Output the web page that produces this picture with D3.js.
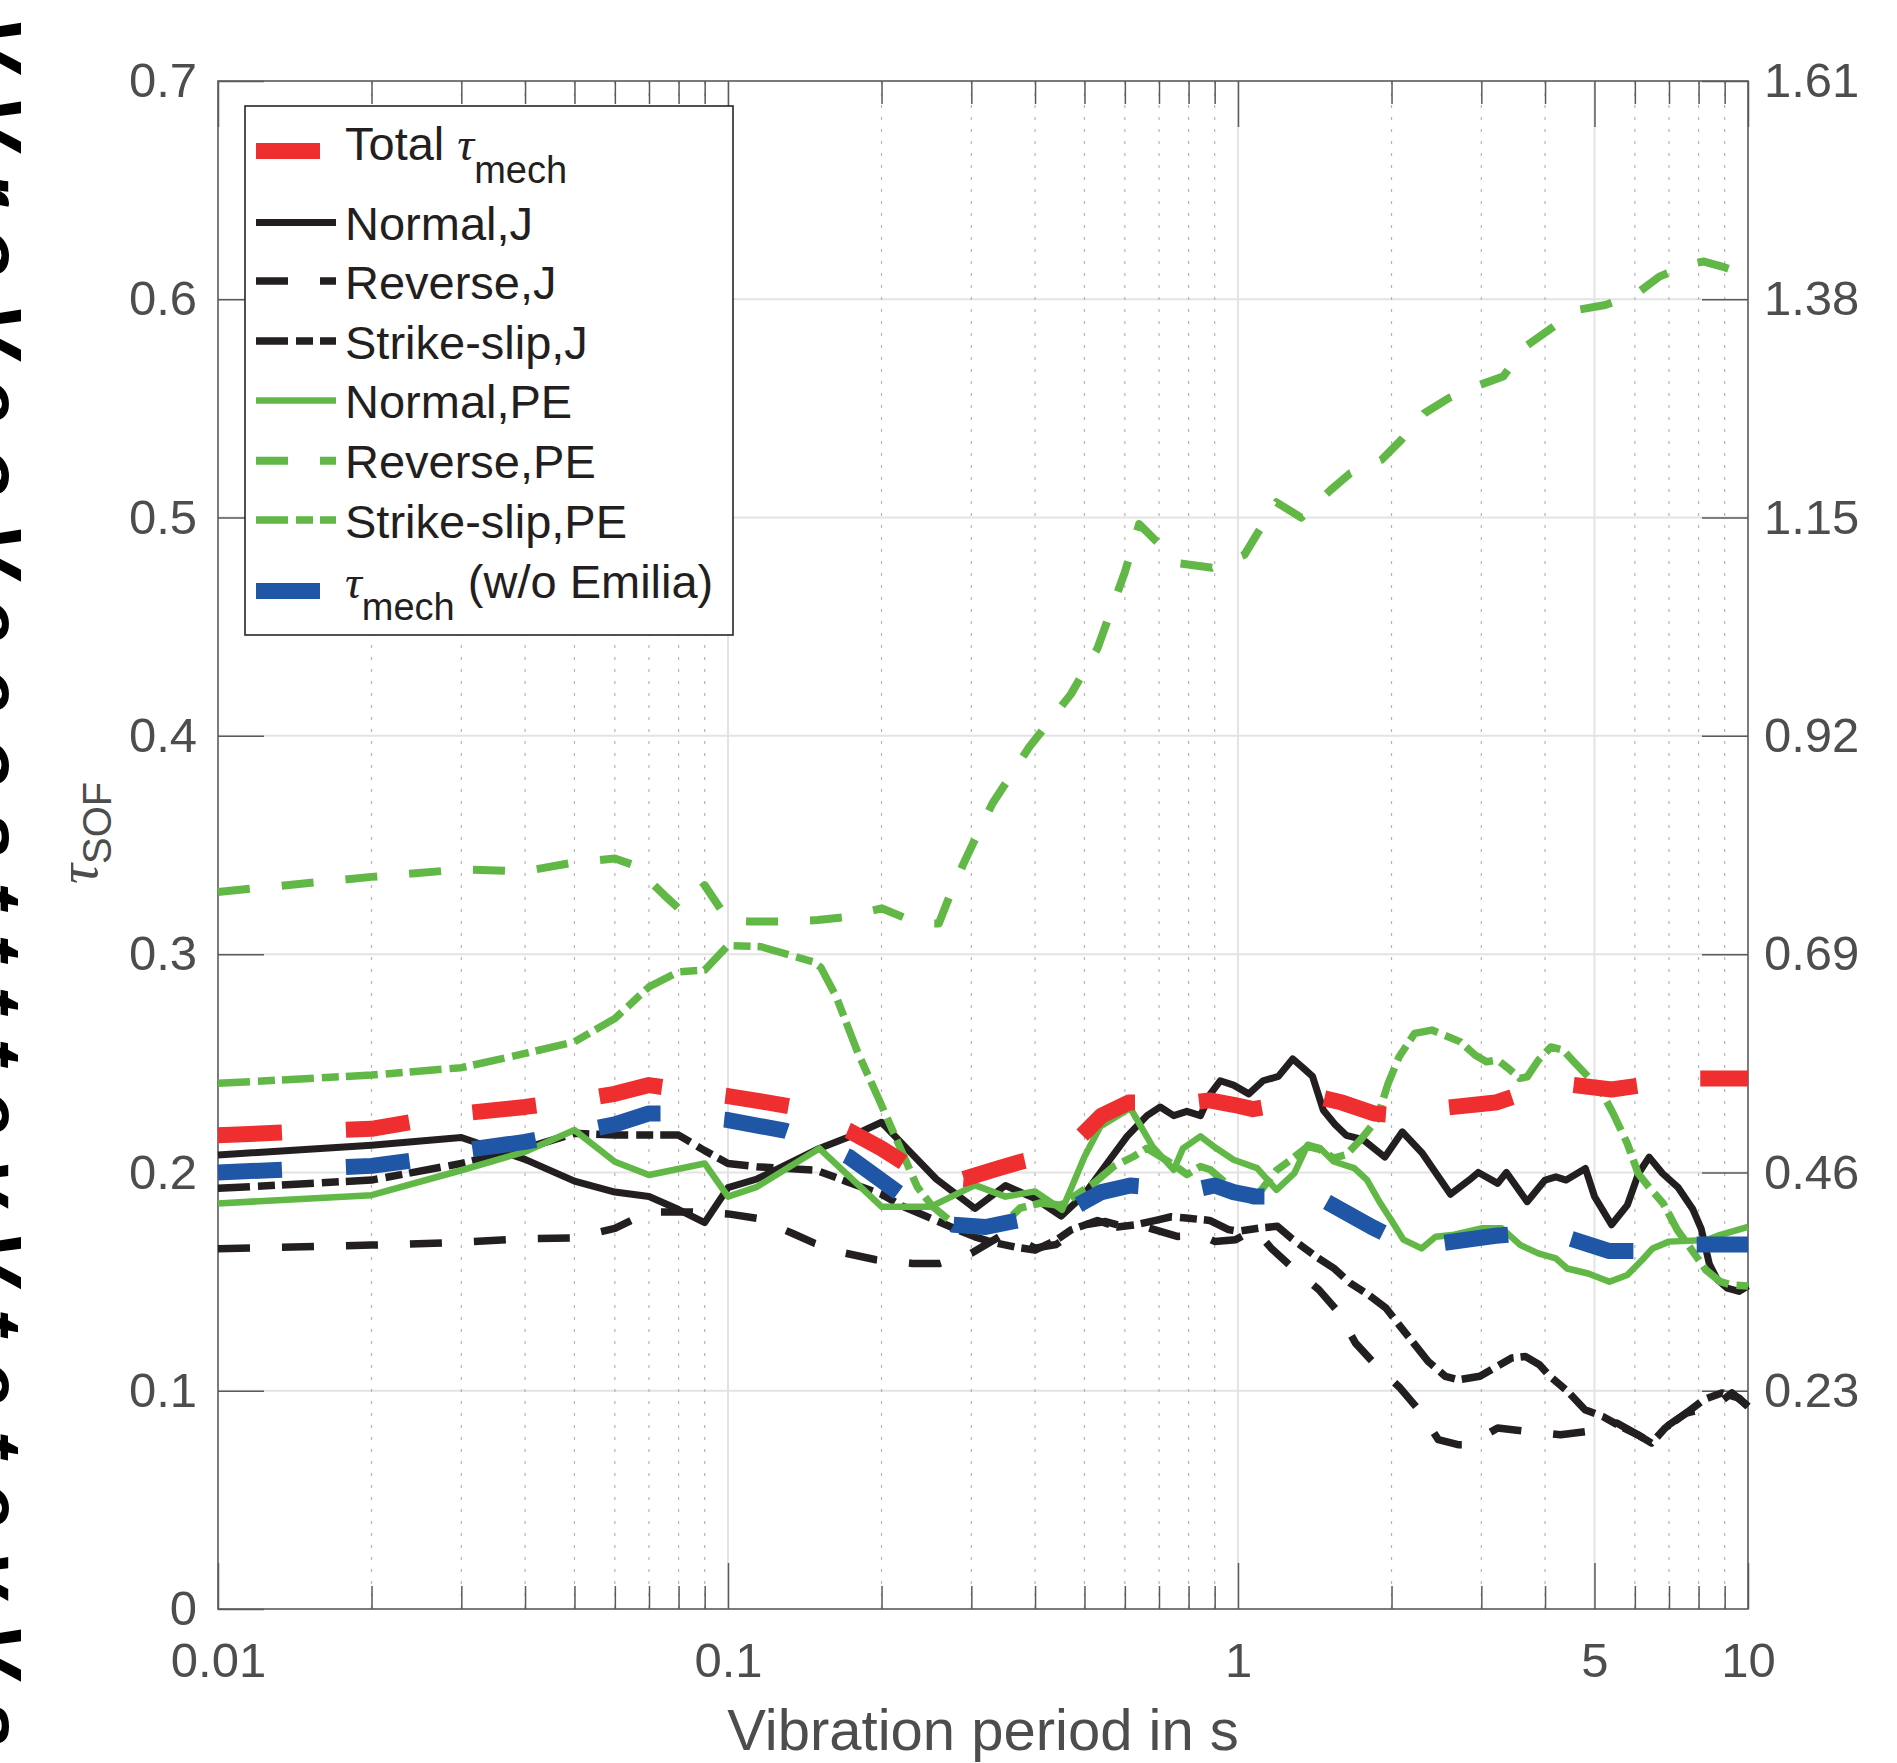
<!DOCTYPE html>
<meta charset="utf-8" />

<!-- Load d3.js -->
<script src="https://d3js.org/d3.v7.min.js"></script>

<style>
	body { margin: 0; background: #fff; }
	svg text { font-family: "Liberation Sans", Arial, Helvetica, sans-serif; }
</style>
<div id="chart"></div>

<script>
	// ---- data (period in s, tau_SOF) ----
	const periodsTotal = [0.01,0.02,0.03,0.04,0.05,0.06,0.07,0.075,0.085,0.1,0.12,0.134,0.15,0.173,0.2,0.223,0.25,0.29,0.34,0.377,0.43,0.48,0.54,0.61,0.7,0.81,0.88,0.98,1.07,1.2,1.41,1.6,1.85,2.1,2.4,3.2,3.6,4.2,5.4,6.2,7.0,9.25,10];
	const tauTotal = [0.217,0.220,0.227,0.230,0.233,0.236,0.240,0.239,0.237,0.235,0.232,0.230,0.225,0.219,0.211,0.204,0.198,0.197,0.202,0.205,0.208,0.214,0.226,0.232,0.232,0.232,0.233,0.231,0.229,0.231,0.235,0.232,0.227,0.226,0.229,0.232,0.236,0.241,0.238,0.240,0.243,0.243,0.243];

	const periodsNoEmilia = [0.01,0.02,0.025,0.03,0.04,0.06,0.07,0.075,0.1,0.13,0.15,0.173,0.218,0.25,0.277,0.32,0.37,0.42,0.476,0.54,0.615,0.7,0.82,0.9,0.98,1.08,1.25,1.43,1.83,2.1,2.4,3.2,3.6,4.17,5.35,6.0,6.9,9.2,10];
	const tauNoEmilia = [0.200,0.203,0.206,0.210,0.214,0.222,0.227,0.227,0.224,0.219,0.214,0.207,0.190,0.182,0.176,0.175,0.178,0.180,0.184,0.191,0.194,0.193,0.192,0.194,0.191,0.189,0.189,0.189,0.175,0.168,0.167,0.171,0.172,0.172,0.164,0.164,0.167,0.167,0.167];

	const periodsNormalJ = [0.01,0.02,0.03,0.04,0.05,0.06,0.07,0.08,0.09,0.1,0.114,0.151,0.176,0.2,0.224,0.256,0.305,0.35,0.4,0.45,0.5,0.553,0.606,0.663,0.704,0.748,0.794,0.844,0.883,0.923,0.98,1.05,1.12,1.2,1.28,1.34,1.4,1.47,1.55,1.63,1.76,1.94,2.1,2.3,2.61,2.84,2.96,3.23,3.36,3.69,4.0,4.2,4.4,4.8,5.0,5.4,5.8,6.1,6.4,6.8,7.3,7.8,8.1,8.4,8.7,9.1,9.6,10];
	const tauNormalJ = [0.208,0.2125,0.216,0.206,0.196,0.191,0.189,0.183,0.177,0.193,0.197,0.211,0.217,0.223,0.211,0.197,0.1835,0.194,0.188,0.180,0.190,0.204,0.2165,0.226,0.230,0.226,0.228,0.226,0.236,0.242,0.240,0.236,0.242,0.244,0.252,0.248,0.244,0.2285,0.222,0.217,0.215,0.207,0.2186,0.2087,0.190,0.1965,0.200,0.195,0.200,0.1866,0.1965,0.198,0.1965,0.2018,0.189,0.176,0.185,0.1995,0.207,0.1995,0.193,0.183,0.174,0.158,0.151,0.147,0.1455,0.148];

	const periodsReverseJ = [0.01,0.02,0.03,0.04,0.05,0.06,0.07,0.085,0.1,0.114,0.134,0.148,0.17,0.195,0.23,0.26,0.3,0.34,0.38,0.4,0.44,0.5,0.55,0.6,0.67,0.76,0.85,0.9,0.99,1.08,1.16,1.28,1.44,1.57,1.7,1.86,2.08,2.26,2.47,2.7,2.83,3.23,3.69,4.29,4.86,5.53,6.08,6.47,7.0,7.57,8.6,9.3,10];
	const tauReverseJ = [0.165,0.1667,0.168,0.1697,0.170,0.1744,0.1819,0.1819,0.181,0.179,0.172,0.1675,0.163,0.160,0.1583,0.1583,0.163,0.1705,0.168,0.1653,0.167,0.176,0.1775,0.175,0.1745,0.1707,0.171,0.1684,0.1692,0.174,0.1654,0.1562,0.1463,0.1363,0.1218,0.1119,0.1012,0.0913,0.0776,0.0753,0.0753,0.0829,0.0814,0.0798,0.0814,0.0852,0.0798,0.076,0.0844,0.0898,0.0928,0.099,0.0928];

	const periodsStrikeJ = [0.01,0.02,0.03,0.04,0.05,0.06,0.08,0.09,0.1,0.114,0.149,0.17,0.2,0.22,0.25,0.28,0.305,0.33,0.37,0.4,0.44,0.47,0.53,0.58,0.63,0.69,0.74,0.8,0.88,0.958,1.0,1.1,1.195,1.27,1.42,1.54,1.66,1.8,1.95,2.08,2.21,2.36,2.55,2.71,2.98,3.18,3.44,3.66,3.9,4.09,4.43,4.79,5.19,5.62,6.08,6.47,6.88,7.57,8.19,8.88,9.6,10];
	const tauStrikeJ = [0.1927,0.1965,0.2041,0.211,0.2179,0.2171,0.2171,0.21,0.2041,0.2026,0.201,0.196,0.19,0.1845,0.179,0.174,0.1705,0.168,0.1656,0.1644,0.169,0.1736,0.178,0.175,0.176,0.178,0.1797,0.179,0.178,0.1738,0.173,0.1745,0.1753,0.17,0.1615,0.1562,0.1493,0.144,0.1379,0.1295,0.1218,0.1134,0.1066,0.105,0.1066,0.1104,0.115,0.1157,0.1119,0.1066,0.0997,0.0913,0.0882,0.0837,0.0798,0.076,0.0829,0.0898,0.0959,0.099,0.0966,0.0928];

	const periodsNormalPE = [0.01,0.02,0.03,0.04,0.05,0.06,0.07,0.09,0.1,0.114,0.151,0.2,0.25,0.305,0.35,0.4,0.452,0.5,0.537,0.615,0.68,0.748,0.78,0.844,0.896,0.98,1.09,1.19,1.29,1.37,1.45,1.54,1.69,1.79,1.9,2.0,2.11,2.29,2.44,2.63,3.0,3.29,3.58,3.88,4.2,4.42,4.86,5.35,5.8,6.2,6.5,7.0,8.3,8.8,10];
	const tauNormalPE = [0.1858,0.1896,0.201,0.2095,0.2194,0.2049,0.1988,0.2041,0.1889,0.1934,0.211,0.1843,0.1843,0.1942,0.1889,0.1913,0.1829,0.2072,0.221,0.2295,0.2118,0.2012,0.211,0.2165,0.2119,0.2058,0.202,0.192,0.1997,0.2127,0.2111,0.205,0.202,0.1966,0.186,0.178,0.1692,0.1652,0.1705,0.1713,0.1744,0.1744,0.1667,0.1629,0.1606,0.156,0.1537,0.1499,0.153,0.1599,0.1652,0.1683,0.169,0.1713,0.1751];

	const periodsReversePE = [0.01,0.02,0.03,0.04,0.05,0.06,0.065,0.075,0.08,0.09,0.1,0.11,0.13,0.15,0.17,0.2,0.224,0.25,0.259,0.272,0.289,0.307,0.33,0.39,0.47,0.53,0.6,0.64,0.7,0.77,0.89,1.03,1.1,1.19,1.33,1.52,1.66,1.91,2.09,2.32,2.59,2.98,3.31,3.66,4.03,4.62,5.25,6.0,6.7,7.7,8.2,8.9,10];
	const tauReversePE = [0.3285,0.3354,0.3388,0.338,0.342,0.3438,0.341,0.327,0.321,0.3316,0.3156,0.315,0.315,0.3156,0.317,0.321,0.3163,0.314,0.314,0.3267,0.341,0.354,0.369,0.395,0.419,0.44,0.475,0.497,0.488,0.479,0.477,0.483,0.494,0.507,0.5,0.5127,0.5203,0.5264,0.5356,0.5478,0.5547,0.5608,0.5646,0.5783,0.5852,0.5951,0.5974,0.602,0.6104,0.6162,0.6173,0.615,0.611];

	const periodsStrikePE = [0.01,0.02,0.03,0.04,0.05,0.06,0.07,0.08,0.09,0.1,0.116,0.147,0.152,0.163,0.18,0.198,0.22,0.235,0.252,0.272,0.3,0.33,0.353,0.374,0.41,0.45,0.521,0.57,0.624,0.663,0.748,0.794,0.844,0.883,0.937,1.0,1.07,1.12,1.19,1.27,1.37,1.45,1.54,1.63,1.74,1.87,1.97,2.07,2.22,2.4,2.54,2.73,2.92,3.07,3.23,3.42,3.57,3.69,3.88,4.11,4.34,4.59,4.86,5.1,5.44,5.8,6.09,6.39,6.82,7.27,7.76,8.27,8.82,9.25,10];
	const tauStrikePE = [0.2408,0.2446,0.248,0.2545,0.2598,0.2705,0.285,0.2919,0.2927,0.304,0.3034,0.2965,0.294,0.2805,0.2545,0.2331,0.2087,0.1934,0.1843,0.178,0.173,0.174,0.178,0.1837,0.186,0.185,0.195,0.2027,0.2073,0.2111,0.2035,0.199,0.2027,0.2012,0.196,0.19,0.187,0.193,0.201,0.2058,0.2119,0.2104,0.2066,0.2081,0.215,0.2241,0.2408,0.253,0.2637,0.2652,0.2629,0.2598,0.2537,0.2507,0.2515,0.2469,0.2431,0.2438,0.2514,0.2575,0.256,0.2499,0.2438,0.2392,0.227,0.2132,0.1995,0.1934,0.1858,0.1736,0.1644,0.1553,0.15,0.1485,0.148];

	// ticks
	const xMajorTicks = [0.01, 0.1, 1, 5, 10];
	const xTickLabels = ["0.01", "0.1", "1", "5", "10"];
	const yTicks = [0, 0.1, 0.2, 0.3, 0.4, 0.5, 0.6, 0.7];
	const yTickLabels = ["0", "0.1", "0.2", "0.3", "0.4", "0.5", "0.6", "0.7"];
	const yRightTicks = [0.23, 0.46, 0.69, 0.92, 1.15, 1.38, 1.61];
	const yRightTickLabels = ["0.23", "0.46", "0.69", "0.92", "1.15", "1.38", "1.61"];

	// ---- layout ----
	const W = 1897, H = 1763;
	const plotL = 218, plotR = 1748, plotT = 81, plotB = 1609;
	const axisColor = "#5a5a5a";
	const labelColor = "#4d4d4d";
	const red = "#ee2e2f", blue = "#1f56a6", green = "#62b846", black = "#231f20";

	const svg = d3.select("#chart").append("svg")
		.attr("width", W)
		.attr("height", H);

	svg.append("rect").attr("width", W).attr("height", H).attr("fill", "#fff");

	const x = d3.scaleLog().domain([0.01, 10]).range([plotL, plotR]);
	const y = d3.scaleLinear().domain([0, 0.7]).range([plotB, plotT]);
	const yRight = d3.scaleLinear().domain([0, 1.61]).range([plotB, plotT]);

	// minor ticks on the log axis (2..9 in each decade, 5 is a major one)
	const xMinorTicks = [];
	[0.01, 0.1, 1].forEach(dec => {
		for (let k = 2; k <= 9; k++) {
			const v = +(dec * k).toPrecision(3);
			if (v !== 5) xMinorTicks.push(v);
		}
	});

	// grid
	const grid = svg.append("g");
	grid.selectAll(".hgrid")
		.data(yTicks.slice(1, -1))
		.enter().append("line")
		.attr("x1", plotL).attr("x2", plotR)
		.attr("y1", d => y(d)).attr("y2", d => y(d))
		.attr("stroke", "#e3e3e3").attr("stroke-width", 2);
	grid.selectAll(".vminor")
		.data(xMinorTicks)
		.enter().append("line")
		.attr("x1", d => x(d)).attr("x2", d => x(d))
		.attr("y1", plotT).attr("y2", plotB)
		.attr("stroke", "#b4b4b4").attr("stroke-width", 1.2)
		.attr("stroke-dasharray", "3,9");
	grid.selectAll(".vmajor")
		.data(xMajorTicks.slice(1, -1))
		.enter().append("line")
		.attr("x1", d => x(d)).attr("x2", d => x(d))
		.attr("y1", plotT).attr("y2", plotB)
		.attr("stroke", "#e3e3e3").attr("stroke-width", 2);

	// axes
	function styleAxis(g) {
		g.select(".domain").remove();
		g.selectAll(".tick line").attr("stroke", axisColor).attr("stroke-width", 1.5);
		g.selectAll(".tick text").attr("fill", labelColor);
		g.attr("font-family", "Liberation Sans, Arial, sans-serif").attr("font-size", 49);
	}

	svg.append("g")
		.attr("transform", "translate(0," + plotB + ")")
		.call(d3.axisBottom(x).tickValues(xMajorTicks).tickSize(-46).tickPadding(33)
			.tickFormat((d, i) => xTickLabels[i]))
		.call(styleAxis);
	svg.append("g")
		.attr("transform", "translate(0," + plotB + ")")
		.call(d3.axisBottom(x).tickValues(xMinorTicks).tickSize(-23).tickFormat(""))
		.call(styleAxis);
	svg.append("g")
		.attr("transform", "translate(0," + plotT + ")")
		.call(d3.axisTop(x).tickValues(xMajorTicks).tickSize(-46).tickFormat(""))
		.call(styleAxis);
	svg.append("g")
		.attr("transform", "translate(0," + plotT + ")")
		.call(d3.axisTop(x).tickValues(xMinorTicks).tickSize(-23).tickFormat(""))
		.call(styleAxis);
	svg.append("g")
		.attr("transform", "translate(" + plotL + ",0)")
		.call(d3.axisLeft(y).tickValues(yTicks).tickSize(-46).tickPadding(21)
			.tickFormat((d, i) => yTickLabels[i]))
		.call(styleAxis);
	svg.append("g")
		.attr("transform", "translate(" + plotR + ",0)")
		.call(d3.axisRight(yRight).tickValues(yRightTicks).tickSize(-46).tickPadding(16)
			.tickFormat((d, i) => yRightTickLabels[i]))
		.call(styleAxis);

	// box
	svg.append("rect")
		.attr("x", plotL).attr("y", plotT)
		.attr("width", plotR - plotL).attr("height", plotB - plotT)
		.attr("fill", "none").attr("stroke", axisColor).attr("stroke-width", 1.6);

	// series
	const dashDash = "32,32";
	const dashDot = "32,8,17,7";
	const series = [
		{ t: periodsNormalJ, v: tauNormalJ, color: black, w: 7, dash: null },
		{ t: periodsReverseJ, v: tauReverseJ, color: black, w: 7.5, dash: dashDash },
		{ t: periodsStrikeJ, v: tauStrikeJ, color: black, w: 7.5, dash: dashDot },
		{ t: periodsNormalPE, v: tauNormalPE, color: green, w: 6.5, dash: null },
		{ t: periodsReversePE, v: tauReversePE, color: green, w: 8, dash: dashDash },
		{ t: periodsStrikePE, v: tauStrikePE, color: green, w: 7.5, dash: dashDot },
		{ t: periodsTotal, v: tauTotal, color: red, w: 16, dash: "64,64" },
		{ t: periodsNoEmilia, v: tauNoEmilia, color: blue, w: 16, dash: "64,64" }
	];

	const line = d3.line()
		.x(d => x(d[0]))
		.y(d => y(d[1]));

	svg.append("g").selectAll("path")
		.data(series)
		.enter().append("path")
		.attr("d", d => line(d3.zip(d.t, d.v)))
		.attr("fill", "none")
		.attr("stroke", d => d.color)
		.attr("stroke-width", d => d.w)
		.attr("stroke-linejoin", "round")
		.attr("stroke-dasharray", d => d.dash);

	// legend
	const legend = svg.append("g");
	legend.append("rect")
		.attr("x", 245).attr("y", 106)
		.attr("width", 488).attr("height", 529)
		.attr("fill", "#fff").attr("stroke", "#262626").attr("stroke-width", 1.6);

	const legendRows = [
		{ color: red, w: 16, dash: null, x2: 320, ly: 151 },
		{ color: black, w: 7, dash: null, x2: 336, ly: 222.6, label: "Normal,J" },
		{ color: black, w: 7.5, dash: dashDash, x2: 336, ly: 281, label: "Reverse,J" },
		{ color: black, w: 7.5, dash: dashDot, x2: 336, ly: 341, label: "Strike-slip,J" },
		{ color: green, w: 6.5, dash: null, x2: 336, ly: 400.6, label: "Normal,PE" },
		{ color: green, w: 8, dash: dashDash, x2: 336, ly: 460.7, label: "Reverse,PE" },
		{ color: green, w: 7.5, dash: dashDot, x2: 336, ly: 520, label: "Strike-slip,PE" },
		{ color: blue, w: 16, dash: null, x2: 320, ly: 591 }
	];

	legend.selectAll(".sample")
		.data(legendRows)
		.enter().append("line")
		.attr("x1", 256).attr("x2", d => d.x2)
		.attr("y1", d => d.ly).attr("y2", d => d.ly)
		.attr("stroke", d => d.color)
		.attr("stroke-width", d => d.w)
		.attr("stroke-dasharray", d => d.dash);

	legend.selectAll(".plain")
		.data(legendRows.filter(d => d.label))
		.enter().append("text")
		.attr("x", 345)
		.attr("y", d => d.ly + 17.5)
		.attr("font-size", 47)
		.attr("fill", black)
		.text(d => d.label);

	const t1 = legend.append("text").attr("x", 345).attr("y", 160)
		.attr("font-size", 47).attr("fill", black);
	t1.append("tspan").text("Total ");
	t1.append("tspan").attr("font-family", "Liberation Serif, serif").attr("font-style", "italic").text("τ");
	t1.append("tspan").attr("font-size", 38).attr("dy", 23).text("mech");

	const t8 = legend.append("text").attr("x", 345).attr("y", 598)
		.attr("font-size", 47).attr("fill", black);
	t8.append("tspan").attr("font-family", "Liberation Serif, serif").attr("font-style", "italic").text("τ");
	t8.append("tspan").attr("font-size", 38).attr("dy", 22).text("mech");
	t8.append("tspan").attr("dy", -22).text(" (w/o Emilia)");

	// axis labels
	svg.append("text")
		.attr("x", (plotL + plotR) / 2)
		.attr("y", 1750)
		.attr("text-anchor", "middle")
		.attr("font-size", 58)
		.attr("fill", labelColor)
		.text("Vibration period in s");

	const yl = svg.append("text")
		.attr("transform", "translate(97,884) rotate(-90)")
		.attr("font-size", 56)
		.attr("fill", labelColor);
	yl.append("tspan").attr("font-family", "Liberation Serif, serif").attr("font-style", "italic").text("τ");
	yl.append("tspan").attr("font-size", 40).attr("dy", 14).text("SOF");

	// rotated text running off the left page edge, as in the source figure
	svg.append("text")
		.attr("transform", "translate(-34,16) rotate(90)")
		.attr("font-size", 80)
		.attr("font-weight", "bold")
		.attr("font-style", "italic")
		.attr("fill", "#000")
		.attr("textLength", 1730)
		.attr("lengthAdjust", "spacing")
		.text("VVroVeoVeeosttttevVtetevVs");
</script>
